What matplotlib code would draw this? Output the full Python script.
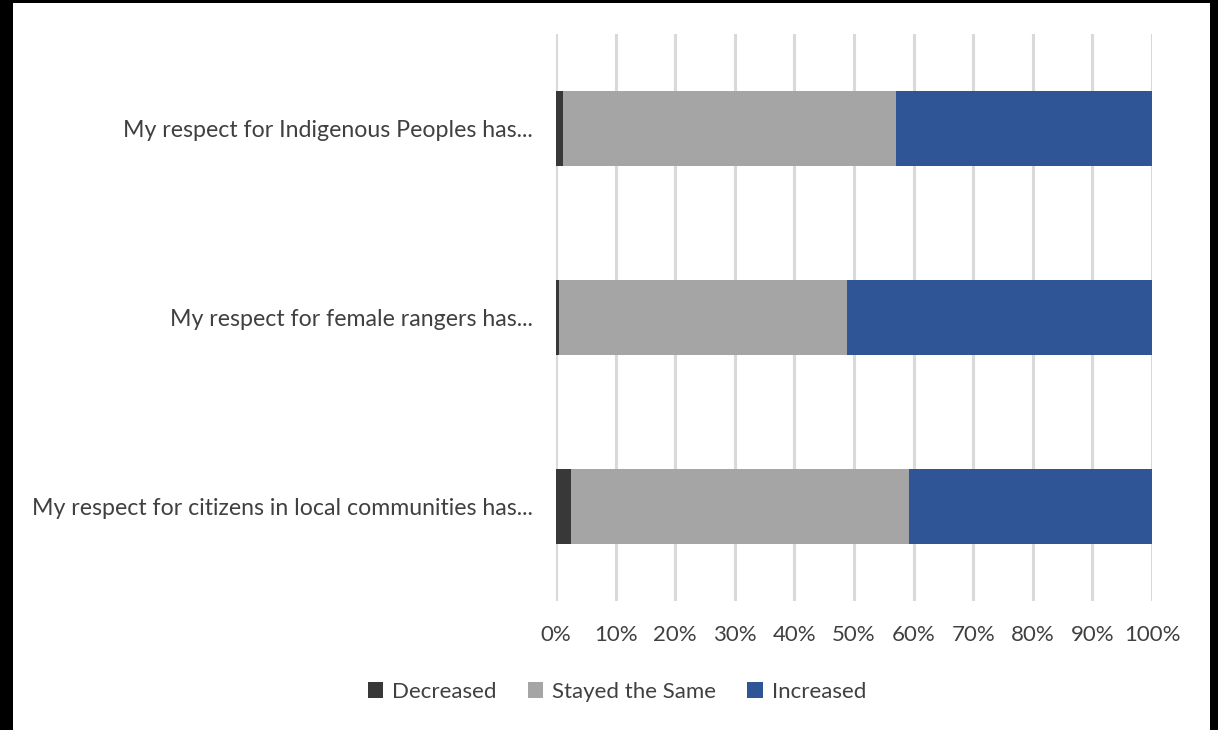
import matplotlib
matplotlib.use("Agg")
import matplotlib.pyplot as plt
from matplotlib.patches import Rectangle
import numpy as np

plt.rcParams["font.family"] = ["Lato", "DejaVu Sans"]

questions = [
    "My respect for citizens in local communities has...",
    "My respect for female rangers has...",
    "My respect for Indigenous Peoples has...",
]
decreased = [2.5, 0.45, 1.2]
stayed_same = [56.8, 48.35, 55.8]
increased = [40.7, 51.2, 43.0]

seriesNames = ["Decreased", "Stayed the Same", "Increased"]
seriesColours = ["#383838", "#a5a5a5", "#2f5597"]
textColour = "#404040"

fig = plt.figure(figsize=(12.18, 7.3), dpi=100, facecolor="black")
# white canvas inside the black frame
canvas = Rectangle((13 / 1218, 0), (1210 - 13) / 1218, 1 - 3 / 730,
                   transform=fig.transFigure, facecolor="white",
                   edgecolor="none", zorder=-10)
fig.add_artist(canvas)

ax = fig.add_axes([556 / 1218, 1 - 601 / 730, (1152 - 556) / 1218, (601 - 34) / 730])
ax.set_facecolor("none")

y = np.arange(len(questions))
left = np.zeros(len(questions))
for vals, name, colour in zip([decreased, stayed_same, increased], seriesNames, seriesColours):
    ax.barh(y, vals, left=left, height=0.4, color=colour, label=name, zorder=3)
    left += np.array(vals)

ax.set_xlim(0, 100)
ax.set_ylim(-0.5, len(questions) - 0.5)
ax.set_xticks(np.arange(0, 101, 10))
ax.set_xticklabels([f"{t}%" for t in range(0, 101, 10)])
ax.set_yticks(y)
ax.set_yticklabels(questions)
ax.xaxis.grid(True, color="#d9d9d9", linewidth=2.2, zorder=0)
ax.tick_params(axis="both", length=0, colors=textColour)
ax.tick_params(axis="x", pad=17, labelsize=16)
ax.tick_params(axis="y", pad=17, labelsize=16.7)
for side in ax.spines.values():
    side.set_visible(False)

fig.legend(loc="center", bbox_to_anchor=(617 / 1218, 1 - 692 / 730), ncol=3,
           frameon=False, fontsize=16, handlelength=0.7, handleheight=0.7,
           handletextpad=0.4, columnspacing=1.4, labelcolor=textColour)

fig.savefig("out.png", dpi=100, facecolor=fig.get_facecolor())
